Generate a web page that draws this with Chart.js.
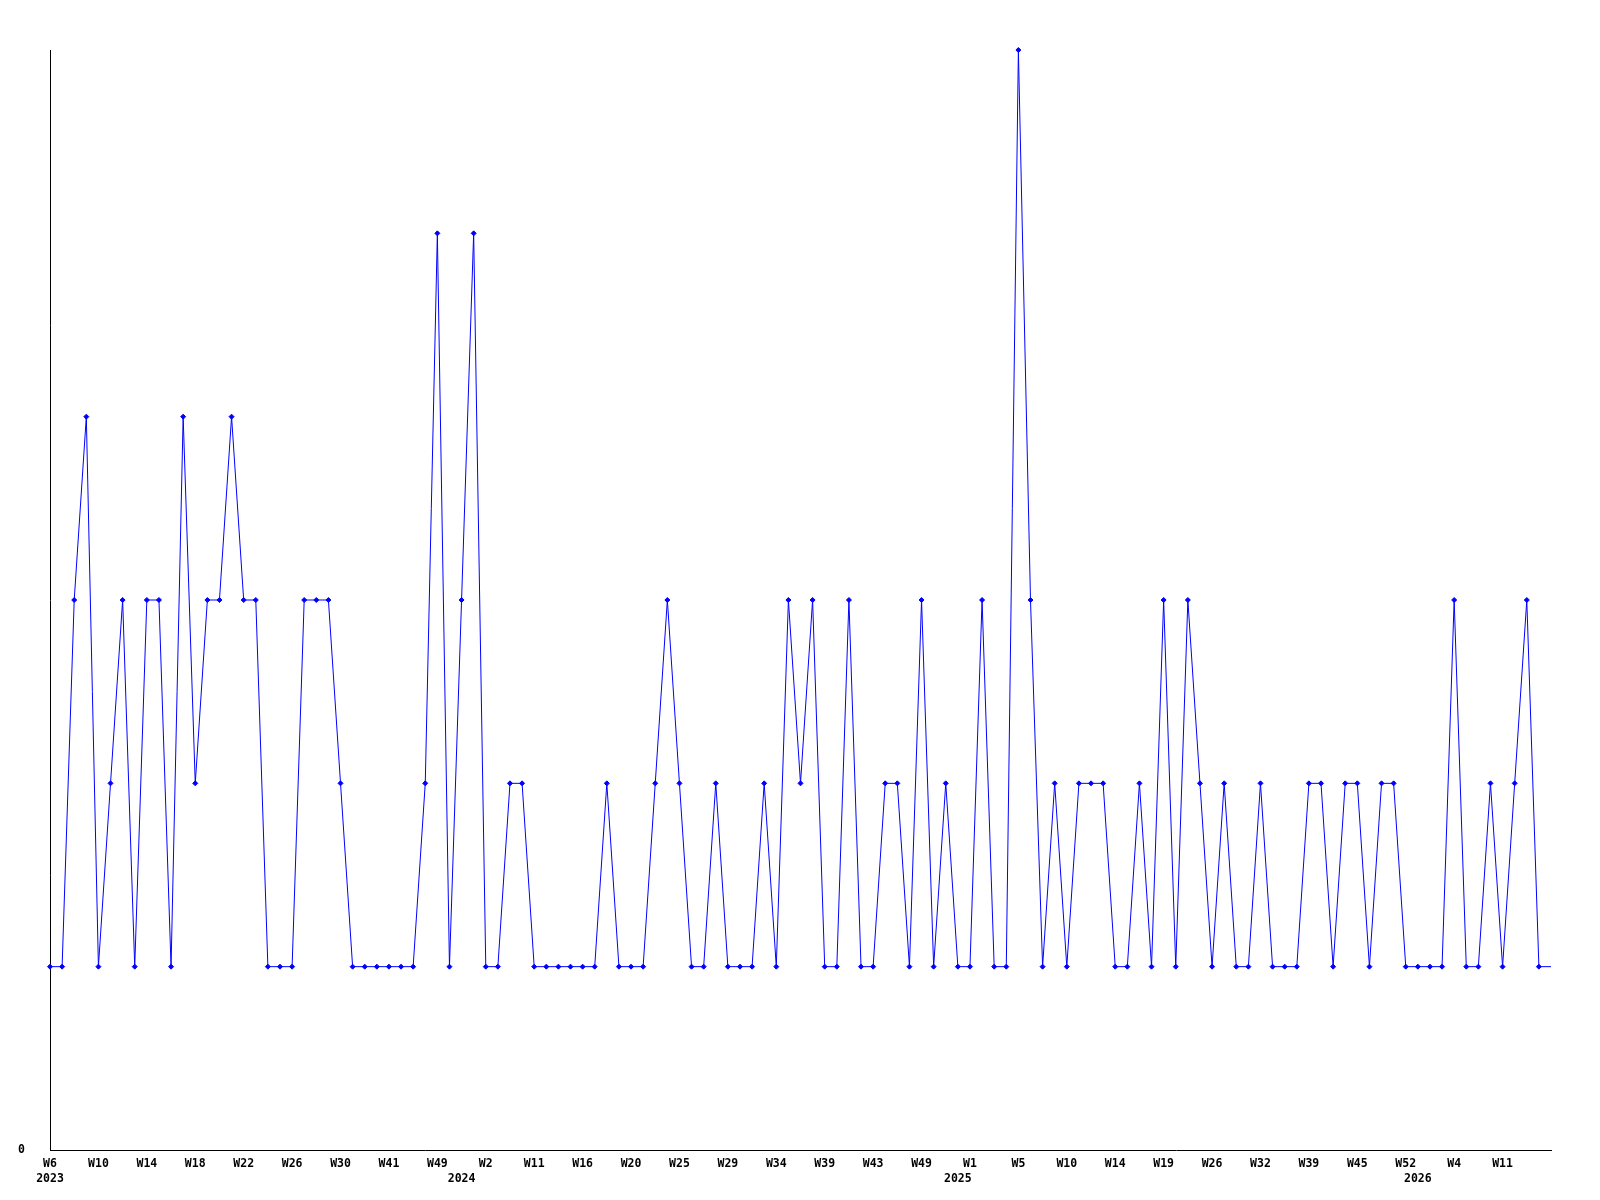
<!DOCTYPE html>
<html>
<head>
<meta charset="utf-8">
<script src="https://cdn.jsdelivr.net/npm/chart.js@4/dist/chart.umd.min.js"></script>
<style>
  body { margin: 0; background: #fff; }
</style>
</head>
<body>
<canvas id="chart" width="1600" height="1200"></canvas>
<script>
  // one value per week that has data
  const weeklyCounts = [
    1, 1, 3, 4, 1, 2, 3, 1, 3, 3, 1, 4, 2, 3, 3, 4, 3, 3, 1, 1, 1, 3, 3, 3, 2,
    1, 1, 1, 1, 1, 1, 2, 5, 1, 3, 5, 1, 1, 2, 2, 1, 1, 1, 1, 1, 1, 2, 1, 1, 1,
    2, 3, 2, 1, 1, 2, 1, 1, 1, 2, 1, 3, 2, 3, 1, 1, 3, 1, 1, 2, 2, 1, 3, 1, 2,
    1, 1, 3, 1, 1, 6, 3, 1, 2, 1, 2, 2, 2, 1, 1, 2, 1, 3, 1, 3, 2, 1, 2, 1, 1,
    2, 1, 1, 1, 2, 2, 1, 2, 2, 1, 2, 2, 1, 1, 1, 1, 3, 1, 1, 2, 1, 2, 3, 1, 1
  ];

  // week label shown on every 4th point
  const tickWeeks = [
    'W6', 'W10', 'W14', 'W18', 'W22', 'W26', 'W30', 'W41', 'W49',
    'W2', 'W11', 'W16', 'W20', 'W25', 'W29', 'W34', 'W39', 'W43', 'W49',
    'W1', 'W5', 'W10', 'W14', 'W19', 'W26', 'W32', 'W39', 'W45', 'W52',
    'W4', 'W11'
  ];
  const tickEvery = 4;

  const years = ['2023', '2024', '2025', '2026'];
  const yearStartIndex = [0, 34, 75, 113];

  const labelFont = {
    family: '"DejaVu Sans Mono", monospace',
    size: 11.5,
    weight: 'bold',
    lineHeight: 1.35
  };

  function buildLabels() {
    return weeklyCounts.map((v, i) => {
      const week = i % tickEvery === 0 ? (tickWeeks[i / tickEvery] || '') : '';
      const y = yearStartIndex.indexOf(i);
      if (y >= 0) {
        return [week, years[y]];
      }
      return week;
    });
  }

  function plotChart() {
    const ctx = document.getElementById('chart').getContext('2d');
    const lastIndex = weeklyCounts.length - 1;

    new Chart(ctx, {
      type: 'line',
      data: {
        labels: buildLabels(),
        datasets: [{
          data: weeklyCounts,
          borderColor: '#0000ff',
          backgroundColor: '#0000ff',
          borderWidth: 1,
          tension: 0,
          fill: false,
          clip: false,
          pointStyle: 'rectRot',
          pointRadius: c => c.dataIndex === lastIndex ? 0 : 2.5,
          pointBorderWidth: 1,
          pointBorderColor: '#0000ff',
          pointBackgroundColor: '#0000ff'
        }]
      },
      options: {
        responsive: false,
        animation: false,
        events: [],
        layout: {
          padding: { top: 50, right: 49, bottom: 0, left: 0 }
        },
        plugins: {
          legend: { display: false },
          tooltip: { enabled: false }
        },
        scales: {
          x: {
            offset: false,
            grid: { display: false, drawTicks: false },
            border: { display: true, color: '#000', width: 1 },
            ticks: {
              autoSkip: false,
              maxRotation: 0,
              minRotation: 0,
              padding: 6,
              color: '#000',
              font: labelFont,
              callback: function(value, index) {
                return this.getLabelForValue(value);
              }
            },
            afterFit: scale => { scale.height = 50; }
          },
          y: {
            min: 0,
            max: 6,
            grid: { display: false, drawTicks: false },
            border: { display: true, color: '#000', width: 1 },
            ticks: {
              stepSize: 1,
              padding: 25,
              color: '#000',
              font: labelFont,
              callback: v => v === 0 ? '0' : ''
            },
            afterFit: scale => { scale.width = 50; }
          }
        }
      }
    });
  }

  plotChart();
</script>
</body>
</html>
